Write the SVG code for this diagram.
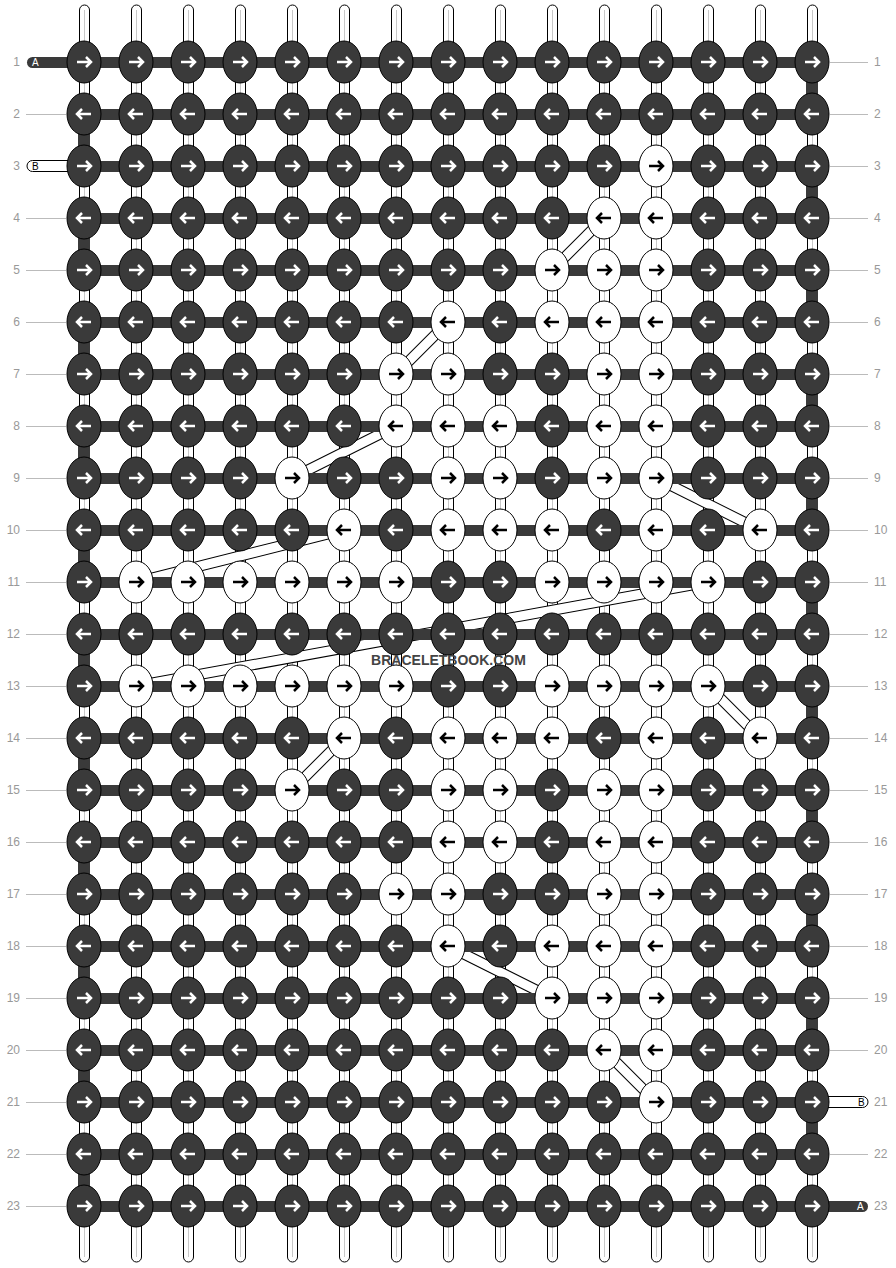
<svg xmlns="http://www.w3.org/2000/svg" xmlns:xlink="http://www.w3.org/1999/xlink" width="896" height="1268" viewBox="0 0 896 1268">
<style>
.dk{fill:#3a3a3a;stroke:#000;stroke-width:1}
.wt{fill:#fff;stroke:#000;stroke-width:1}
.aw{fill:none;stroke:#fff;stroke-width:2.5}
.ab{fill:none;stroke:#000;stroke-width:2.5}
.vs{fill:#fff;stroke:#000;stroke-width:1}
.vc{stroke:#c8c8c8;stroke-width:1}
.hb{fill:#3a3a3a}
.lbl{font-family:"Liberation Sans",Arial,sans-serif;font-size:12px;fill:#999}
.ll{stroke:#bbb;stroke-width:1}
.so{stroke:#000;stroke-width:11;fill:none}
.si{stroke:#fff;stroke-width:9;fill:none}
.stl{font-family:"Liberation Sans",Arial,sans-serif;font-size:10px}
</style>
<defs>
<g id="DR"><ellipse rx="17" ry="21" class="dk"/><path d="M-7,0H7M2,-5L7,0L2,5" class="aw"/></g>
<g id="DL"><ellipse rx="17" ry="21" class="dk"/><path d="M7,0H-7M-2,-5L-7,0L-2,5" class="aw"/></g>
<g id="WR"><ellipse rx="17" ry="21" class="wt"/><path d="M-7,0H7M2,-5L7,0L2,5" class="ab"/></g>
<g id="WL"><ellipse rx="17" ry="21" class="wt"/><path d="M7,0H-7M-2,-5L-7,0L-2,5" class="ab"/></g>
</defs>
<rect width="896" height="1268" fill="#fff"/>
<g id="vertical-strings">
<rect x="79.5" y="5" width="10" height="1257" rx="5" class="vs"/><line x1="84.5" y1="10" x2="84.5" y2="1257" class="vc"/>
<rect x="131.5" y="5" width="10" height="1257" rx="5" class="vs"/><line x1="136.5" y1="10" x2="136.5" y2="1257" class="vc"/>
<rect x="183.5" y="5" width="10" height="1257" rx="5" class="vs"/><line x1="188.5" y1="10" x2="188.5" y2="1257" class="vc"/>
<rect x="235.5" y="5" width="10" height="1257" rx="5" class="vs"/><line x1="240.5" y1="10" x2="240.5" y2="1257" class="vc"/>
<rect x="287.5" y="5" width="10" height="1257" rx="5" class="vs"/><line x1="292.5" y1="10" x2="292.5" y2="1257" class="vc"/>
<rect x="339.5" y="5" width="10" height="1257" rx="5" class="vs"/><line x1="344.5" y1="10" x2="344.5" y2="1257" class="vc"/>
<rect x="391.5" y="5" width="10" height="1257" rx="5" class="vs"/><line x1="396.5" y1="10" x2="396.5" y2="1257" class="vc"/>
<rect x="443.5" y="5" width="10" height="1257" rx="5" class="vs"/><line x1="448.5" y1="10" x2="448.5" y2="1257" class="vc"/>
<rect x="495.5" y="5" width="10" height="1257" rx="5" class="vs"/><line x1="500.5" y1="10" x2="500.5" y2="1257" class="vc"/>
<rect x="547.5" y="5" width="10" height="1257" rx="5" class="vs"/><line x1="552.5" y1="10" x2="552.5" y2="1257" class="vc"/>
<rect x="599.5" y="5" width="10" height="1257" rx="5" class="vs"/><line x1="604.5" y1="10" x2="604.5" y2="1257" class="vc"/>
<rect x="651.5" y="5" width="10" height="1257" rx="5" class="vs"/><line x1="656.5" y1="10" x2="656.5" y2="1257" class="vc"/>
<rect x="703.5" y="5" width="10" height="1257" rx="5" class="vs"/><line x1="708.5" y1="10" x2="708.5" y2="1257" class="vc"/>
<rect x="755.5" y="5" width="10" height="1257" rx="5" class="vs"/><line x1="760.5" y1="10" x2="760.5" y2="1257" class="vc"/>
<rect x="807.5" y="5" width="10" height="1257" rx="5" class="vs"/><line x1="812.5" y1="10" x2="812.5" y2="1257" class="vc"/>
</g>
<g id="connectors">
<g class="so">
<line x1="604" y1="218" x2="552" y2="270"/>
<line x1="448" y1="322" x2="396" y2="374"/>
<line x1="396" y1="426" x2="292" y2="478"/>
<line x1="344" y1="530" x2="136" y2="582"/>
<line x1="656" y1="478" x2="760" y2="530"/>
<line x1="708" y1="582" x2="136" y2="686"/>
<line x1="708" y1="686" x2="760" y2="738"/>
<line x1="344" y1="738" x2="292" y2="790"/>
<line x1="448" y1="946" x2="552" y2="998"/>
<line x1="604" y1="1050" x2="656" y2="1102"/>
</g>
<g class="si">
<line x1="604" y1="218" x2="552" y2="270"/>
<line x1="448" y1="322" x2="396" y2="374"/>
<line x1="396" y1="426" x2="292" y2="478"/>
<line x1="344" y1="530" x2="136" y2="582"/>
<line x1="656" y1="478" x2="760" y2="530"/>
<line x1="708" y1="582" x2="136" y2="686"/>
<line x1="708" y1="686" x2="760" y2="738"/>
<line x1="344" y1="738" x2="292" y2="790"/>
<line x1="448" y1="946" x2="552" y2="998"/>
<line x1="604" y1="1050" x2="656" y2="1102"/>
</g>
<g class="hb">
<rect x="84" y="57" width="728" height="11"/>
<rect x="84" y="109" width="728" height="11"/>
<rect x="84" y="161" width="728" height="11"/>
<rect x="84" y="213" width="728" height="11"/>
<rect x="84" y="265" width="728" height="11"/>
<rect x="84" y="317" width="728" height="11"/>
<rect x="84" y="369" width="728" height="11"/>
<rect x="84" y="421" width="728" height="11"/>
<rect x="84" y="473" width="728" height="11"/>
<rect x="84" y="525" width="728" height="11"/>
<rect x="84" y="577" width="728" height="11"/>
<rect x="84" y="629" width="728" height="11"/>
<rect x="84" y="681" width="728" height="11"/>
<rect x="84" y="733" width="728" height="11"/>
<rect x="84" y="785" width="728" height="11"/>
<rect x="84" y="837" width="728" height="11"/>
<rect x="84" y="889" width="728" height="11"/>
<rect x="84" y="941" width="728" height="11"/>
<rect x="84" y="993" width="728" height="11"/>
<rect x="84" y="1045" width="728" height="11"/>
<rect x="84" y="1097" width="728" height="11"/>
<rect x="84" y="1149" width="728" height="11"/>
<rect x="84" y="1201" width="728" height="11"/>
<rect x="78" y="114" width="12" height="52"/>
<rect x="78" y="218" width="12" height="52"/>
<rect x="78" y="322" width="12" height="52"/>
<rect x="78" y="426" width="12" height="52"/>
<rect x="78" y="530" width="12" height="52"/>
<rect x="78" y="634" width="12" height="52"/>
<rect x="78" y="738" width="12" height="52"/>
<rect x="78" y="842" width="12" height="52"/>
<rect x="78" y="946" width="12" height="52"/>
<rect x="78" y="1050" width="12" height="52"/>
<rect x="78" y="1154" width="12" height="52"/>
<rect x="806" y="62" width="12" height="52"/>
<rect x="806" y="166" width="12" height="52"/>
<rect x="806" y="270" width="12" height="52"/>
<rect x="806" y="374" width="12" height="52"/>
<rect x="806" y="478" width="12" height="52"/>
<rect x="806" y="582" width="12" height="52"/>
<rect x="806" y="686" width="12" height="52"/>
<rect x="806" y="790" width="12" height="52"/>
<rect x="806" y="894" width="12" height="52"/>
<rect x="806" y="998" width="12" height="52"/>
<rect x="806" y="1102" width="12" height="52"/>
</g>
<g id="stubs">
<path d="M68,57H32.5a5.5,5.5 0 0 0 0,11H68Z" class="hb"/>
<text x="32" y="66" class="stl" fill="#fff">A</text>
<path d="M68,160.5H32.5a5.5,5.5 0 0 0 0,11H68" class="vs"/>
<text x="32" y="170" class="stl" fill="#000">B</text>
<path d="M828,1096.5H862.5a5.5,5.5 0 0 1 0,11H828" class="vs"/>
<text x="858" y="1106" class="stl" fill="#000">B</text>
<path d="M828,1201H862.5a5.5,5.5 0 0 1 0,11H828Z" class="hb"/>
<text x="857" y="1210" class="stl" fill="#fff">A</text>
</g>
</g>
<g id="nodes">
<g id="n1-1"><use href="#DR" x="84" y="62"/></g>
<g id="n1-2"><use href="#DR" x="136" y="62"/></g>
<g id="n1-3"><use href="#DR" x="188" y="62"/></g>
<g id="n1-4"><use href="#DR" x="240" y="62"/></g>
<g id="n1-5"><use href="#DR" x="292" y="62"/></g>
<g id="n1-6"><use href="#DR" x="344" y="62"/></g>
<g id="n1-7"><use href="#DR" x="396" y="62"/></g>
<g id="n1-8"><use href="#DR" x="448" y="62"/></g>
<g id="n1-9"><use href="#DR" x="500" y="62"/></g>
<g id="n1-10"><use href="#DR" x="552" y="62"/></g>
<g id="n1-11"><use href="#DR" x="604" y="62"/></g>
<g id="n1-12"><use href="#DR" x="656" y="62"/></g>
<g id="n1-13"><use href="#DR" x="708" y="62"/></g>
<g id="n1-14"><use href="#DR" x="760" y="62"/></g>
<g id="n1-15"><use href="#DR" x="812" y="62"/></g>
<g id="n2-1"><use href="#DL" x="84" y="114"/></g>
<g id="n2-2"><use href="#DL" x="136" y="114"/></g>
<g id="n2-3"><use href="#DL" x="188" y="114"/></g>
<g id="n2-4"><use href="#DL" x="240" y="114"/></g>
<g id="n2-5"><use href="#DL" x="292" y="114"/></g>
<g id="n2-6"><use href="#DL" x="344" y="114"/></g>
<g id="n2-7"><use href="#DL" x="396" y="114"/></g>
<g id="n2-8"><use href="#DL" x="448" y="114"/></g>
<g id="n2-9"><use href="#DL" x="500" y="114"/></g>
<g id="n2-10"><use href="#DL" x="552" y="114"/></g>
<g id="n2-11"><use href="#DL" x="604" y="114"/></g>
<g id="n2-12"><use href="#DL" x="656" y="114"/></g>
<g id="n2-13"><use href="#DL" x="708" y="114"/></g>
<g id="n2-14"><use href="#DL" x="760" y="114"/></g>
<g id="n2-15"><use href="#DL" x="812" y="114"/></g>
<g id="n3-1"><use href="#DR" x="84" y="166"/></g>
<g id="n3-2"><use href="#DR" x="136" y="166"/></g>
<g id="n3-3"><use href="#DR" x="188" y="166"/></g>
<g id="n3-4"><use href="#DR" x="240" y="166"/></g>
<g id="n3-5"><use href="#DR" x="292" y="166"/></g>
<g id="n3-6"><use href="#DR" x="344" y="166"/></g>
<g id="n3-7"><use href="#DR" x="396" y="166"/></g>
<g id="n3-8"><use href="#DR" x="448" y="166"/></g>
<g id="n3-9"><use href="#DR" x="500" y="166"/></g>
<g id="n3-10"><use href="#DR" x="552" y="166"/></g>
<g id="n3-11"><use href="#DR" x="604" y="166"/></g>
<g id="n3-12"><use href="#WR" x="656" y="166"/></g>
<g id="n3-13"><use href="#DR" x="708" y="166"/></g>
<g id="n3-14"><use href="#DR" x="760" y="166"/></g>
<g id="n3-15"><use href="#DR" x="812" y="166"/></g>
<g id="n4-1"><use href="#DL" x="84" y="218"/></g>
<g id="n4-2"><use href="#DL" x="136" y="218"/></g>
<g id="n4-3"><use href="#DL" x="188" y="218"/></g>
<g id="n4-4"><use href="#DL" x="240" y="218"/></g>
<g id="n4-5"><use href="#DL" x="292" y="218"/></g>
<g id="n4-6"><use href="#DL" x="344" y="218"/></g>
<g id="n4-7"><use href="#DL" x="396" y="218"/></g>
<g id="n4-8"><use href="#DL" x="448" y="218"/></g>
<g id="n4-9"><use href="#DL" x="500" y="218"/></g>
<g id="n4-10"><use href="#DL" x="552" y="218"/></g>
<g id="n4-11"><use href="#WL" x="604" y="218"/></g>
<g id="n4-12"><use href="#WL" x="656" y="218"/></g>
<g id="n4-13"><use href="#DL" x="708" y="218"/></g>
<g id="n4-14"><use href="#DL" x="760" y="218"/></g>
<g id="n4-15"><use href="#DL" x="812" y="218"/></g>
<g id="n5-1"><use href="#DR" x="84" y="270"/></g>
<g id="n5-2"><use href="#DR" x="136" y="270"/></g>
<g id="n5-3"><use href="#DR" x="188" y="270"/></g>
<g id="n5-4"><use href="#DR" x="240" y="270"/></g>
<g id="n5-5"><use href="#DR" x="292" y="270"/></g>
<g id="n5-6"><use href="#DR" x="344" y="270"/></g>
<g id="n5-7"><use href="#DR" x="396" y="270"/></g>
<g id="n5-8"><use href="#DR" x="448" y="270"/></g>
<g id="n5-9"><use href="#DR" x="500" y="270"/></g>
<g id="n5-10"><use href="#WR" x="552" y="270"/></g>
<g id="n5-11"><use href="#WR" x="604" y="270"/></g>
<g id="n5-12"><use href="#WR" x="656" y="270"/></g>
<g id="n5-13"><use href="#DR" x="708" y="270"/></g>
<g id="n5-14"><use href="#DR" x="760" y="270"/></g>
<g id="n5-15"><use href="#DR" x="812" y="270"/></g>
<g id="n6-1"><use href="#DL" x="84" y="322"/></g>
<g id="n6-2"><use href="#DL" x="136" y="322"/></g>
<g id="n6-3"><use href="#DL" x="188" y="322"/></g>
<g id="n6-4"><use href="#DL" x="240" y="322"/></g>
<g id="n6-5"><use href="#DL" x="292" y="322"/></g>
<g id="n6-6"><use href="#DL" x="344" y="322"/></g>
<g id="n6-7"><use href="#DL" x="396" y="322"/></g>
<g id="n6-8"><use href="#WL" x="448" y="322"/></g>
<g id="n6-9"><use href="#DL" x="500" y="322"/></g>
<g id="n6-10"><use href="#WL" x="552" y="322"/></g>
<g id="n6-11"><use href="#WL" x="604" y="322"/></g>
<g id="n6-12"><use href="#WL" x="656" y="322"/></g>
<g id="n6-13"><use href="#DL" x="708" y="322"/></g>
<g id="n6-14"><use href="#DL" x="760" y="322"/></g>
<g id="n6-15"><use href="#DL" x="812" y="322"/></g>
<g id="n7-1"><use href="#DR" x="84" y="374"/></g>
<g id="n7-2"><use href="#DR" x="136" y="374"/></g>
<g id="n7-3"><use href="#DR" x="188" y="374"/></g>
<g id="n7-4"><use href="#DR" x="240" y="374"/></g>
<g id="n7-5"><use href="#DR" x="292" y="374"/></g>
<g id="n7-6"><use href="#DR" x="344" y="374"/></g>
<g id="n7-7"><use href="#WR" x="396" y="374"/></g>
<g id="n7-8"><use href="#WR" x="448" y="374"/></g>
<g id="n7-9"><use href="#DR" x="500" y="374"/></g>
<g id="n7-10"><use href="#DR" x="552" y="374"/></g>
<g id="n7-11"><use href="#WR" x="604" y="374"/></g>
<g id="n7-12"><use href="#WR" x="656" y="374"/></g>
<g id="n7-13"><use href="#DR" x="708" y="374"/></g>
<g id="n7-14"><use href="#DR" x="760" y="374"/></g>
<g id="n7-15"><use href="#DR" x="812" y="374"/></g>
<g id="n8-1"><use href="#DL" x="84" y="426"/></g>
<g id="n8-2"><use href="#DL" x="136" y="426"/></g>
<g id="n8-3"><use href="#DL" x="188" y="426"/></g>
<g id="n8-4"><use href="#DL" x="240" y="426"/></g>
<g id="n8-5"><use href="#DL" x="292" y="426"/></g>
<g id="n8-6"><use href="#DL" x="344" y="426"/></g>
<g id="n8-7"><use href="#WL" x="396" y="426"/></g>
<g id="n8-8"><use href="#WL" x="448" y="426"/></g>
<g id="n8-9"><use href="#WL" x="500" y="426"/></g>
<g id="n8-10"><use href="#DL" x="552" y="426"/></g>
<g id="n8-11"><use href="#WL" x="604" y="426"/></g>
<g id="n8-12"><use href="#WL" x="656" y="426"/></g>
<g id="n8-13"><use href="#DL" x="708" y="426"/></g>
<g id="n8-14"><use href="#DL" x="760" y="426"/></g>
<g id="n8-15"><use href="#DL" x="812" y="426"/></g>
<g id="n9-1"><use href="#DR" x="84" y="478"/></g>
<g id="n9-2"><use href="#DR" x="136" y="478"/></g>
<g id="n9-3"><use href="#DR" x="188" y="478"/></g>
<g id="n9-4"><use href="#DR" x="240" y="478"/></g>
<g id="n9-5"><use href="#WR" x="292" y="478"/></g>
<g id="n9-6"><use href="#DR" x="344" y="478"/></g>
<g id="n9-7"><use href="#DR" x="396" y="478"/></g>
<g id="n9-8"><use href="#WR" x="448" y="478"/></g>
<g id="n9-9"><use href="#WR" x="500" y="478"/></g>
<g id="n9-10"><use href="#DR" x="552" y="478"/></g>
<g id="n9-11"><use href="#WR" x="604" y="478"/></g>
<g id="n9-12"><use href="#WR" x="656" y="478"/></g>
<g id="n9-13"><use href="#DR" x="708" y="478"/></g>
<g id="n9-14"><use href="#DR" x="760" y="478"/></g>
<g id="n9-15"><use href="#DR" x="812" y="478"/></g>
<g id="n10-1"><use href="#DL" x="84" y="530"/></g>
<g id="n10-2"><use href="#DL" x="136" y="530"/></g>
<g id="n10-3"><use href="#DL" x="188" y="530"/></g>
<g id="n10-4"><use href="#DL" x="240" y="530"/></g>
<g id="n10-5"><use href="#DL" x="292" y="530"/></g>
<g id="n10-6"><use href="#WL" x="344" y="530"/></g>
<g id="n10-7"><use href="#DL" x="396" y="530"/></g>
<g id="n10-8"><use href="#WL" x="448" y="530"/></g>
<g id="n10-9"><use href="#WL" x="500" y="530"/></g>
<g id="n10-10"><use href="#WL" x="552" y="530"/></g>
<g id="n10-11"><use href="#DL" x="604" y="530"/></g>
<g id="n10-12"><use href="#WL" x="656" y="530"/></g>
<g id="n10-13"><use href="#DL" x="708" y="530"/></g>
<g id="n10-14"><use href="#WL" x="760" y="530"/></g>
<g id="n10-15"><use href="#DL" x="812" y="530"/></g>
<g id="n11-1"><use href="#DR" x="84" y="582"/></g>
<g id="n11-2"><use href="#WR" x="136" y="582"/></g>
<g id="n11-3"><use href="#WR" x="188" y="582"/></g>
<g id="n11-4"><use href="#WR" x="240" y="582"/></g>
<g id="n11-5"><use href="#WR" x="292" y="582"/></g>
<g id="n11-6"><use href="#WR" x="344" y="582"/></g>
<g id="n11-7"><use href="#WR" x="396" y="582"/></g>
<g id="n11-8"><use href="#DR" x="448" y="582"/></g>
<g id="n11-9"><use href="#DR" x="500" y="582"/></g>
<g id="n11-10"><use href="#WR" x="552" y="582"/></g>
<g id="n11-11"><use href="#WR" x="604" y="582"/></g>
<g id="n11-12"><use href="#WR" x="656" y="582"/></g>
<g id="n11-13"><use href="#WR" x="708" y="582"/></g>
<g id="n11-14"><use href="#DR" x="760" y="582"/></g>
<g id="n11-15"><use href="#DR" x="812" y="582"/></g>
<g id="n12-1"><use href="#DL" x="84" y="634"/></g>
<g id="n12-2"><use href="#DL" x="136" y="634"/></g>
<g id="n12-3"><use href="#DL" x="188" y="634"/></g>
<g id="n12-4"><use href="#DL" x="240" y="634"/></g>
<g id="n12-5"><use href="#DL" x="292" y="634"/></g>
<g id="n12-6"><use href="#DL" x="344" y="634"/></g>
<g id="n12-7"><use href="#DL" x="396" y="634"/></g>
<g id="n12-8"><use href="#DL" x="448" y="634"/></g>
<g id="n12-9"><use href="#DL" x="500" y="634"/></g>
<g id="n12-10"><use href="#DL" x="552" y="634"/></g>
<g id="n12-11"><use href="#DL" x="604" y="634"/></g>
<g id="n12-12"><use href="#DL" x="656" y="634"/></g>
<g id="n12-13"><use href="#DL" x="708" y="634"/></g>
<g id="n12-14"><use href="#DL" x="760" y="634"/></g>
<g id="n12-15"><use href="#DL" x="812" y="634"/></g>
<g id="n13-1"><use href="#DR" x="84" y="686"/></g>
<g id="n13-2"><use href="#WR" x="136" y="686"/></g>
<g id="n13-3"><use href="#WR" x="188" y="686"/></g>
<g id="n13-4"><use href="#WR" x="240" y="686"/></g>
<g id="n13-5"><use href="#WR" x="292" y="686"/></g>
<g id="n13-6"><use href="#WR" x="344" y="686"/></g>
<g id="n13-7"><use href="#WR" x="396" y="686"/></g>
<g id="n13-8"><use href="#DR" x="448" y="686"/></g>
<g id="n13-9"><use href="#DR" x="500" y="686"/></g>
<g id="n13-10"><use href="#WR" x="552" y="686"/></g>
<g id="n13-11"><use href="#WR" x="604" y="686"/></g>
<g id="n13-12"><use href="#WR" x="656" y="686"/></g>
<g id="n13-13"><use href="#WR" x="708" y="686"/></g>
<g id="n13-14"><use href="#DR" x="760" y="686"/></g>
<g id="n13-15"><use href="#DR" x="812" y="686"/></g>
<g id="n14-1"><use href="#DL" x="84" y="738"/></g>
<g id="n14-2"><use href="#DL" x="136" y="738"/></g>
<g id="n14-3"><use href="#DL" x="188" y="738"/></g>
<g id="n14-4"><use href="#DL" x="240" y="738"/></g>
<g id="n14-5"><use href="#DL" x="292" y="738"/></g>
<g id="n14-6"><use href="#WL" x="344" y="738"/></g>
<g id="n14-7"><use href="#DL" x="396" y="738"/></g>
<g id="n14-8"><use href="#WL" x="448" y="738"/></g>
<g id="n14-9"><use href="#WL" x="500" y="738"/></g>
<g id="n14-10"><use href="#WL" x="552" y="738"/></g>
<g id="n14-11"><use href="#DL" x="604" y="738"/></g>
<g id="n14-12"><use href="#WL" x="656" y="738"/></g>
<g id="n14-13"><use href="#DL" x="708" y="738"/></g>
<g id="n14-14"><use href="#WL" x="760" y="738"/></g>
<g id="n14-15"><use href="#DL" x="812" y="738"/></g>
<g id="n15-1"><use href="#DR" x="84" y="790"/></g>
<g id="n15-2"><use href="#DR" x="136" y="790"/></g>
<g id="n15-3"><use href="#DR" x="188" y="790"/></g>
<g id="n15-4"><use href="#DR" x="240" y="790"/></g>
<g id="n15-5"><use href="#WR" x="292" y="790"/></g>
<g id="n15-6"><use href="#DR" x="344" y="790"/></g>
<g id="n15-7"><use href="#DR" x="396" y="790"/></g>
<g id="n15-8"><use href="#WR" x="448" y="790"/></g>
<g id="n15-9"><use href="#WR" x="500" y="790"/></g>
<g id="n15-10"><use href="#DR" x="552" y="790"/></g>
<g id="n15-11"><use href="#WR" x="604" y="790"/></g>
<g id="n15-12"><use href="#WR" x="656" y="790"/></g>
<g id="n15-13"><use href="#DR" x="708" y="790"/></g>
<g id="n15-14"><use href="#DR" x="760" y="790"/></g>
<g id="n15-15"><use href="#DR" x="812" y="790"/></g>
<g id="n16-1"><use href="#DL" x="84" y="842"/></g>
<g id="n16-2"><use href="#DL" x="136" y="842"/></g>
<g id="n16-3"><use href="#DL" x="188" y="842"/></g>
<g id="n16-4"><use href="#DL" x="240" y="842"/></g>
<g id="n16-5"><use href="#DL" x="292" y="842"/></g>
<g id="n16-6"><use href="#DL" x="344" y="842"/></g>
<g id="n16-7"><use href="#DL" x="396" y="842"/></g>
<g id="n16-8"><use href="#WL" x="448" y="842"/></g>
<g id="n16-9"><use href="#WL" x="500" y="842"/></g>
<g id="n16-10"><use href="#DL" x="552" y="842"/></g>
<g id="n16-11"><use href="#WL" x="604" y="842"/></g>
<g id="n16-12"><use href="#WL" x="656" y="842"/></g>
<g id="n16-13"><use href="#DL" x="708" y="842"/></g>
<g id="n16-14"><use href="#DL" x="760" y="842"/></g>
<g id="n16-15"><use href="#DL" x="812" y="842"/></g>
<g id="n17-1"><use href="#DR" x="84" y="894"/></g>
<g id="n17-2"><use href="#DR" x="136" y="894"/></g>
<g id="n17-3"><use href="#DR" x="188" y="894"/></g>
<g id="n17-4"><use href="#DR" x="240" y="894"/></g>
<g id="n17-5"><use href="#DR" x="292" y="894"/></g>
<g id="n17-6"><use href="#DR" x="344" y="894"/></g>
<g id="n17-7"><use href="#WR" x="396" y="894"/></g>
<g id="n17-8"><use href="#WR" x="448" y="894"/></g>
<g id="n17-9"><use href="#DR" x="500" y="894"/></g>
<g id="n17-10"><use href="#DR" x="552" y="894"/></g>
<g id="n17-11"><use href="#WR" x="604" y="894"/></g>
<g id="n17-12"><use href="#WR" x="656" y="894"/></g>
<g id="n17-13"><use href="#DR" x="708" y="894"/></g>
<g id="n17-14"><use href="#DR" x="760" y="894"/></g>
<g id="n17-15"><use href="#DR" x="812" y="894"/></g>
<g id="n18-1"><use href="#DL" x="84" y="946"/></g>
<g id="n18-2"><use href="#DL" x="136" y="946"/></g>
<g id="n18-3"><use href="#DL" x="188" y="946"/></g>
<g id="n18-4"><use href="#DL" x="240" y="946"/></g>
<g id="n18-5"><use href="#DL" x="292" y="946"/></g>
<g id="n18-6"><use href="#DL" x="344" y="946"/></g>
<g id="n18-7"><use href="#DL" x="396" y="946"/></g>
<g id="n18-8"><use href="#WL" x="448" y="946"/></g>
<g id="n18-9"><use href="#DL" x="500" y="946"/></g>
<g id="n18-10"><use href="#WL" x="552" y="946"/></g>
<g id="n18-11"><use href="#WL" x="604" y="946"/></g>
<g id="n18-12"><use href="#WL" x="656" y="946"/></g>
<g id="n18-13"><use href="#DL" x="708" y="946"/></g>
<g id="n18-14"><use href="#DL" x="760" y="946"/></g>
<g id="n18-15"><use href="#DL" x="812" y="946"/></g>
<g id="n19-1"><use href="#DR" x="84" y="998"/></g>
<g id="n19-2"><use href="#DR" x="136" y="998"/></g>
<g id="n19-3"><use href="#DR" x="188" y="998"/></g>
<g id="n19-4"><use href="#DR" x="240" y="998"/></g>
<g id="n19-5"><use href="#DR" x="292" y="998"/></g>
<g id="n19-6"><use href="#DR" x="344" y="998"/></g>
<g id="n19-7"><use href="#DR" x="396" y="998"/></g>
<g id="n19-8"><use href="#DR" x="448" y="998"/></g>
<g id="n19-9"><use href="#DR" x="500" y="998"/></g>
<g id="n19-10"><use href="#WR" x="552" y="998"/></g>
<g id="n19-11"><use href="#WR" x="604" y="998"/></g>
<g id="n19-12"><use href="#WR" x="656" y="998"/></g>
<g id="n19-13"><use href="#DR" x="708" y="998"/></g>
<g id="n19-14"><use href="#DR" x="760" y="998"/></g>
<g id="n19-15"><use href="#DR" x="812" y="998"/></g>
<g id="n20-1"><use href="#DL" x="84" y="1050"/></g>
<g id="n20-2"><use href="#DL" x="136" y="1050"/></g>
<g id="n20-3"><use href="#DL" x="188" y="1050"/></g>
<g id="n20-4"><use href="#DL" x="240" y="1050"/></g>
<g id="n20-5"><use href="#DL" x="292" y="1050"/></g>
<g id="n20-6"><use href="#DL" x="344" y="1050"/></g>
<g id="n20-7"><use href="#DL" x="396" y="1050"/></g>
<g id="n20-8"><use href="#DL" x="448" y="1050"/></g>
<g id="n20-9"><use href="#DL" x="500" y="1050"/></g>
<g id="n20-10"><use href="#DL" x="552" y="1050"/></g>
<g id="n20-11"><use href="#WL" x="604" y="1050"/></g>
<g id="n20-12"><use href="#WL" x="656" y="1050"/></g>
<g id="n20-13"><use href="#DL" x="708" y="1050"/></g>
<g id="n20-14"><use href="#DL" x="760" y="1050"/></g>
<g id="n20-15"><use href="#DL" x="812" y="1050"/></g>
<g id="n21-1"><use href="#DR" x="84" y="1102"/></g>
<g id="n21-2"><use href="#DR" x="136" y="1102"/></g>
<g id="n21-3"><use href="#DR" x="188" y="1102"/></g>
<g id="n21-4"><use href="#DR" x="240" y="1102"/></g>
<g id="n21-5"><use href="#DR" x="292" y="1102"/></g>
<g id="n21-6"><use href="#DR" x="344" y="1102"/></g>
<g id="n21-7"><use href="#DR" x="396" y="1102"/></g>
<g id="n21-8"><use href="#DR" x="448" y="1102"/></g>
<g id="n21-9"><use href="#DR" x="500" y="1102"/></g>
<g id="n21-10"><use href="#DR" x="552" y="1102"/></g>
<g id="n21-11"><use href="#DR" x="604" y="1102"/></g>
<g id="n21-12"><use href="#WR" x="656" y="1102"/></g>
<g id="n21-13"><use href="#DR" x="708" y="1102"/></g>
<g id="n21-14"><use href="#DR" x="760" y="1102"/></g>
<g id="n21-15"><use href="#DR" x="812" y="1102"/></g>
<g id="n22-1"><use href="#DL" x="84" y="1154"/></g>
<g id="n22-2"><use href="#DL" x="136" y="1154"/></g>
<g id="n22-3"><use href="#DL" x="188" y="1154"/></g>
<g id="n22-4"><use href="#DL" x="240" y="1154"/></g>
<g id="n22-5"><use href="#DL" x="292" y="1154"/></g>
<g id="n22-6"><use href="#DL" x="344" y="1154"/></g>
<g id="n22-7"><use href="#DL" x="396" y="1154"/></g>
<g id="n22-8"><use href="#DL" x="448" y="1154"/></g>
<g id="n22-9"><use href="#DL" x="500" y="1154"/></g>
<g id="n22-10"><use href="#DL" x="552" y="1154"/></g>
<g id="n22-11"><use href="#DL" x="604" y="1154"/></g>
<g id="n22-12"><use href="#DL" x="656" y="1154"/></g>
<g id="n22-13"><use href="#DL" x="708" y="1154"/></g>
<g id="n22-14"><use href="#DL" x="760" y="1154"/></g>
<g id="n22-15"><use href="#DL" x="812" y="1154"/></g>
<g id="n23-1"><use href="#DR" x="84" y="1206"/></g>
<g id="n23-2"><use href="#DR" x="136" y="1206"/></g>
<g id="n23-3"><use href="#DR" x="188" y="1206"/></g>
<g id="n23-4"><use href="#DR" x="240" y="1206"/></g>
<g id="n23-5"><use href="#DR" x="292" y="1206"/></g>
<g id="n23-6"><use href="#DR" x="344" y="1206"/></g>
<g id="n23-7"><use href="#DR" x="396" y="1206"/></g>
<g id="n23-8"><use href="#DR" x="448" y="1206"/></g>
<g id="n23-9"><use href="#DR" x="500" y="1206"/></g>
<g id="n23-10"><use href="#DR" x="552" y="1206"/></g>
<g id="n23-11"><use href="#DR" x="604" y="1206"/></g>
<g id="n23-12"><use href="#DR" x="656" y="1206"/></g>
<g id="n23-13"><use href="#DR" x="708" y="1206"/></g>
<g id="n23-14"><use href="#DR" x="760" y="1206"/></g>
<g id="n23-15"><use href="#DR" x="812" y="1206"/></g>
</g>
<g id="row-labels">
<g class="ll">
<line x1="26" y1="114.5" x2="66" y2="114.5"/>
<line x1="26" y1="218.5" x2="66" y2="218.5"/>
<line x1="26" y1="270.5" x2="66" y2="270.5"/>
<line x1="26" y1="322.5" x2="66" y2="322.5"/>
<line x1="26" y1="374.5" x2="66" y2="374.5"/>
<line x1="26" y1="426.5" x2="66" y2="426.5"/>
<line x1="26" y1="478.5" x2="66" y2="478.5"/>
<line x1="26" y1="530.5" x2="66" y2="530.5"/>
<line x1="26" y1="582.5" x2="66" y2="582.5"/>
<line x1="26" y1="634.5" x2="66" y2="634.5"/>
<line x1="26" y1="686.5" x2="66" y2="686.5"/>
<line x1="26" y1="738.5" x2="66" y2="738.5"/>
<line x1="26" y1="790.5" x2="66" y2="790.5"/>
<line x1="26" y1="842.5" x2="66" y2="842.5"/>
<line x1="26" y1="894.5" x2="66" y2="894.5"/>
<line x1="26" y1="946.5" x2="66" y2="946.5"/>
<line x1="26" y1="998.5" x2="66" y2="998.5"/>
<line x1="26" y1="1050.5" x2="66" y2="1050.5"/>
<line x1="26" y1="1102.5" x2="66" y2="1102.5"/>
<line x1="26" y1="1154.5" x2="66" y2="1154.5"/>
<line x1="26" y1="1206.5" x2="66" y2="1206.5"/>
<line x1="830" y1="62.5" x2="868" y2="62.5"/>
<line x1="830" y1="114.5" x2="868" y2="114.5"/>
<line x1="830" y1="166.5" x2="868" y2="166.5"/>
<line x1="830" y1="218.5" x2="868" y2="218.5"/>
<line x1="830" y1="270.5" x2="868" y2="270.5"/>
<line x1="830" y1="322.5" x2="868" y2="322.5"/>
<line x1="830" y1="374.5" x2="868" y2="374.5"/>
<line x1="830" y1="426.5" x2="868" y2="426.5"/>
<line x1="830" y1="478.5" x2="868" y2="478.5"/>
<line x1="830" y1="530.5" x2="868" y2="530.5"/>
<line x1="830" y1="582.5" x2="868" y2="582.5"/>
<line x1="830" y1="634.5" x2="868" y2="634.5"/>
<line x1="830" y1="686.5" x2="868" y2="686.5"/>
<line x1="830" y1="738.5" x2="868" y2="738.5"/>
<line x1="830" y1="790.5" x2="868" y2="790.5"/>
<line x1="830" y1="842.5" x2="868" y2="842.5"/>
<line x1="830" y1="894.5" x2="868" y2="894.5"/>
<line x1="830" y1="946.5" x2="868" y2="946.5"/>
<line x1="830" y1="998.5" x2="868" y2="998.5"/>
<line x1="830" y1="1050.5" x2="868" y2="1050.5"/>
<line x1="830" y1="1154.5" x2="868" y2="1154.5"/>
</g>
<g class="lbl" text-anchor="end">
<text x="20" y="66">1</text><text x="20" y="118">2</text><text x="20" y="170">3</text><text x="20" y="222">4</text><text x="20" y="274">5</text><text x="20" y="326">6</text><text x="20" y="378">7</text><text x="20" y="430">8</text><text x="20" y="482">9</text><text x="20" y="534">10</text><text x="20" y="586">11</text><text x="20" y="638">12</text><text x="20" y="690">13</text><text x="20" y="742">14</text><text x="20" y="794">15</text><text x="20" y="846">16</text><text x="20" y="898">17</text><text x="20" y="950">18</text><text x="20" y="1002">19</text><text x="20" y="1054">20</text><text x="20" y="1106">21</text><text x="20" y="1158">22</text><text x="20" y="1210">23</text>
</g>
<g class="lbl">
<text x="874" y="66">1</text><text x="874" y="118">2</text><text x="874" y="170">3</text><text x="874" y="222">4</text><text x="874" y="274">5</text><text x="874" y="326">6</text><text x="874" y="378">7</text><text x="874" y="430">8</text><text x="874" y="482">9</text><text x="874" y="534">10</text><text x="874" y="586">11</text><text x="874" y="638">12</text><text x="874" y="690">13</text><text x="874" y="742">14</text><text x="874" y="794">15</text><text x="874" y="846">16</text><text x="874" y="898">17</text><text x="874" y="950">18</text><text x="874" y="1002">19</text><text x="874" y="1054">20</text><text x="874" y="1106">21</text><text x="874" y="1158">22</text><text x="874" y="1210">23</text>
</g>
</g>
<text x="448.5" y="665" text-anchor="middle" font-family="'Liberation Sans',Arial,sans-serif" font-weight="bold" font-size="14" fill="#444">BRACELETBOOK.COM</text>
</svg>
